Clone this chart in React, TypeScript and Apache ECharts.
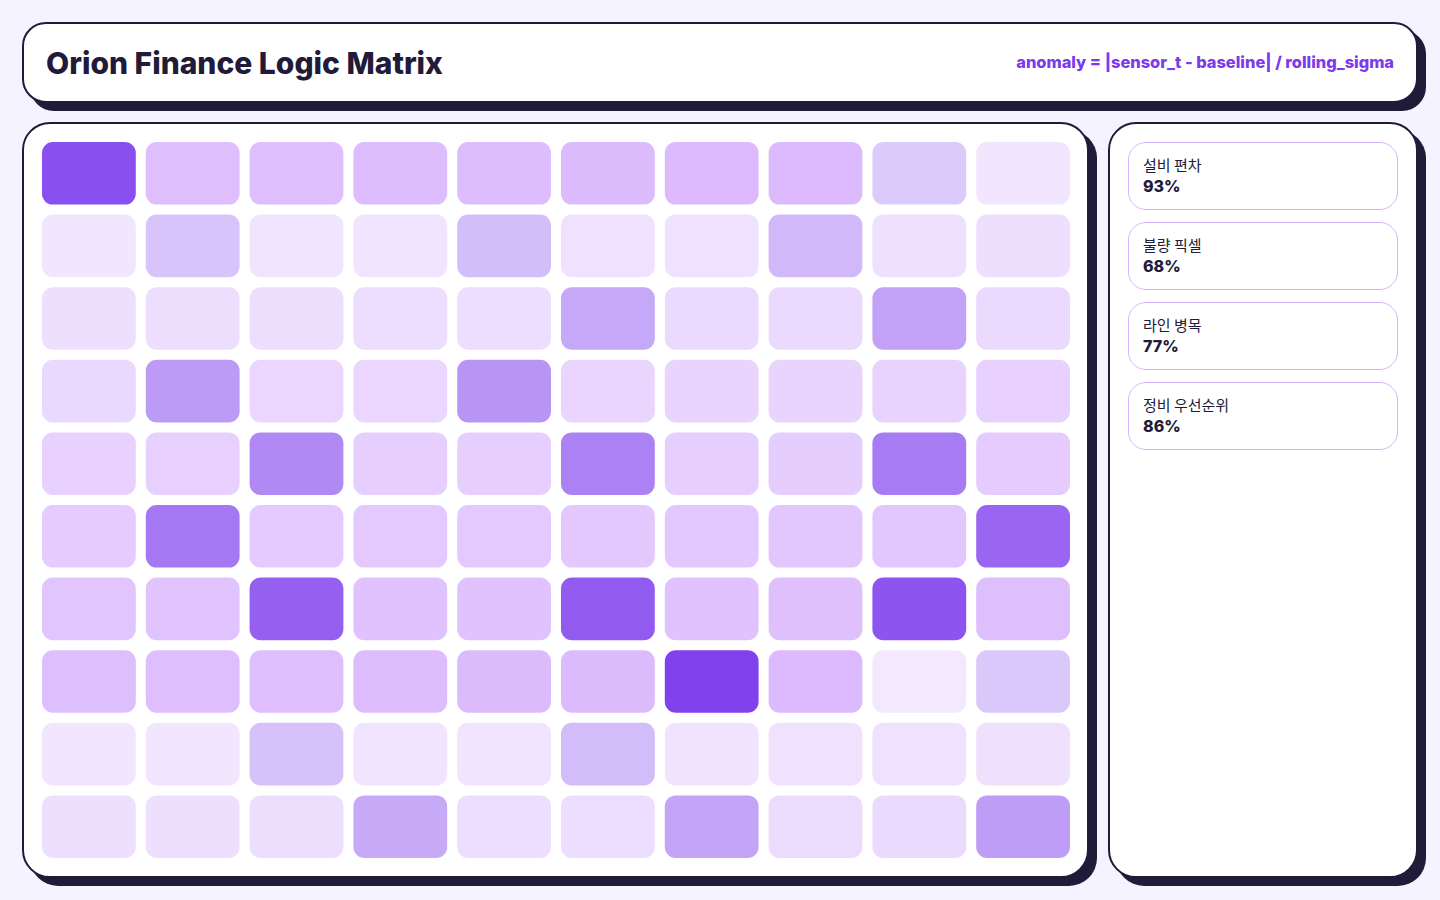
import React, { useEffect, useRef } from "react";
import * as echarts from "echarts";

const columns = ["C1", "C2", "C3", "C4", "C5", "C6", "C7", "C8", "C9", "C10"];
const rows = ["R1", "R2", "R3", "R4", "R5", "R6", "R7", "R8", "R9", "R10"];

// baseline tint level (0-100) per cell; null where an anomaly cell sits
const baseRow1 = [null, 53, 53, 54, 54, 55, 56, 56, null, 20];
const baseRow2 = [21, null, 22, 22, null, 24, 24, null, 25, 26];
const baseRow3 = [26, 27, 27, 28, 28, null, 30, 30, null, 31];
const baseRow4 = [32, null, 33, 33, null, 34, 35, 35, 36, 37];
const baseRow5 = [37, 38, null, 39, 39, null, 40, 41, null, 42];
const baseRow6 = [42, null, 43, 44, 44, 45, 45, 46, 46, null];
const baseRow7 = [47, 48, null, 49, 49, null, 50, 51, null, 52];
const baseRow8 = [52, 53, 53, 54, 55, 55, null, 56, 19, null];
const baseRow9 = [20, 21, null, 22, 22, null, 23, 24, 24, 25];
const baseRow10 = [26, 26, 27, null, 28, 28, null, 29, 30, null];
const baseGrid = [baseRow1, baseRow2, baseRow3, baseRow4, baseRow5, baseRow6, baseRow7, baseRow8, baseRow9, baseRow10];

// anomaly cells: [column index, row index, anomaly level 0-100]
const anomalyCells: [number, number, number][] = [
  [0, 0, 89], [8, 0, 27],
  [1, 1, 30], [4, 1, 33], [7, 1, 36],
  [5, 2, 44], [8, 2, 47],
  [1, 3, 51], [4, 3, 54],
  [2, 4, 60], [5, 4, 64], [8, 4, 67],
  [1, 5, 69], [9, 5, 78],
  [2, 6, 81], [5, 6, 83], [8, 6, 87],
  [6, 7, 96], [9, 7, 28],
  [2, 8, 31], [5, 8, 34],
  [3, 9, 43], [6, 9, 46], [9, 9, 50],
];

const statLabels = ["설비 편차", "불량 픽셀", "라인 병목", "정비 우선순위"];
const statValues = [93, 68, 77, 86];

const INK = "#211a38";

function Chart() {
  const ref = useRef<HTMLDivElement>(null);
  useEffect(() => {
    if (!ref.current) return;
    const chart = echarts.init(ref.current, null, { renderer: "svg" });
    const baseData: number[][] = [];
    baseGrid.forEach((row, r) =>
      row.forEach((v, c) => {
        if (v !== null) baseData.push([c, r, v as number]);
      })
    );
    const renderItem = (_params: any, api: any) => {
      const c = api.coord([api.value(0), api.value(1)]);
      const s = api.size([1, 1]);
      return {
        type: "rect",
        shape: { x: c[0] - s[0] / 2 + 5, y: c[1] - s[1] / 2 + 5, width: s[0] - 10, height: s[1] - 10, r: 11 },
        style: { fill: api.visual("color") },
      };
    };
    chart.setOption({
      animation: false,
      grid: { left: 13, top: 13, width: 1038, height: 726 },
      xAxis: { type: "category", data: columns, show: false },
      yAxis: { type: "category", data: rows, inverse: true, show: false },
      visualMap: [
        { show: false, seriesIndex: 0, dimension: 2, min: 0, max: 100, inRange: { color: ["#ffffff", "#c084fc"] } },
        { show: false, seriesIndex: 1, dimension: 2, min: 0, max: 100, inRange: { color: ["#ffffff", "#7c3aed"] } },
      ],
      series: [
        { type: "custom", name: "baseline", renderItem, data: baseData, encode: { x: 0, y: 1 } },
        { type: "custom", name: "anomaly", renderItem, data: anomalyCells, encode: { x: 0, y: 1 } },
      ],
    });
    return () => chart.dispose();
  }, []);
  return <div ref={ref} style={{ position: "absolute", left: 0, top: 0, width: 1063, height: 752 }} />;
}

const card = (left: number, top: number, width: number, height: number, radius = 24): React.CSSProperties => ({
  position: "absolute",
  left,
  top,
  width,
  height,
  boxSizing: "border-box",
  background: "#ffffff",
  border: `2px solid ${INK}`,
  borderRadius: radius,
  boxShadow: `8px 8px 0 ${INK}`,
});

export default function App() {
  return (
    <div
      style={{
        position: "fixed",
        left: 0,
        top: 0,
        width: 1440,
        height: 900,
        background: "#f5f3ff",
        fontFamily: "Inter, 'Noto Sans CJK KR', sans-serif",
        color: INK,
      }}
    >
      <div style={card(22, 22, 1396, 81, 24)}>
        <div
          style={{
            position: "absolute",
            left: 22,
            top: 1,
            height: 77,
            lineHeight: "77px",
            fontSize: 30,
            fontWeight: 800,
            whiteSpace: "nowrap",
          }}
        >
          Orion Finance Logic Matrix
        </div>
        <div
          style={{
            position: "absolute",
            right: 22,
            top: 0,
            height: 77,
            lineHeight: "77px",
            fontSize: 16.4,
            fontWeight: 800,
            color: "#7c3aed",
            whiteSpace: "nowrap",
          }}
        >
          anomaly = |sensor_t - baseline| / rolling_sigma
        </div>
      </div>
      <div style={card(22, 122, 1067, 756, 28)}>
        <Chart />
      </div>
      <div style={card(1108, 122, 310, 756, 28)}>
        {statLabels.map((label, i) => (
          <div
            key={label}
            style={{
              position: "absolute",
              left: 18,
              top: 18 + i * 80,
              width: 270,
              height: 68,
              boxSizing: "border-box",
              border: "1px solid #d8b4fe",
              borderRadius: 18,
              paddingLeft: 14,
              paddingTop: 12,
            }}
          >
            <div style={{ fontSize: 15, lineHeight: "20px", fontFamily: "'Noto Sans CJK KR', Inter, sans-serif" }}>{label}</div>
            <div style={{ fontSize: 16, lineHeight: "22px", fontWeight: 800 }}>{statValues[i]}%</div>
          </div>
        ))}
      </div>
    </div>
  );
}
